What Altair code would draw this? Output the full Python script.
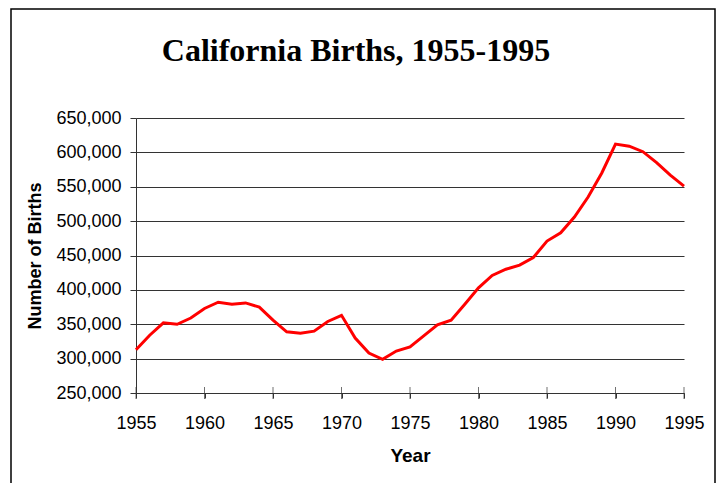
import altair as alt
import pandas as pd

years = list(range(1955, 1996))
births = [
    313000, 334000, 352000, 350000, 359000, 373000, 382000, 379000, 381000, 375000,
    356000, 339000, 337000, 340000, 354000, 363000, 330000, 308000, 299000, 311000,
    317000, 333000, 349000, 356000, 379000, 403000, 421000, 430000, 436000, 447000,
    471000, 483000, 506000, 535000, 570000, 612000, 609000, 601000, 585000, 567000,
    551000,
]
y_ticks = [250000, 300000, 350000, 400000, 450000, 500000, 550000, 600000, 650000]
x_ticks = [1955, 1960, 1965, 1970, 1975, 1980, 1985, 1990, 1995]

df = pd.DataFrame({"Year": years, "Births": births})
tick_df = pd.DataFrame({"Year": x_ticks, "Births": [250000] * len(x_ticks)})

x_scale = alt.Scale(domain=[1955, 1995], nice=False, zero=False)
y_scale = alt.Scale(domain=[250000, 650000], nice=False, zero=False)

x_axis = alt.Axis(
    values=x_ticks, format="d", title="Year", grid=False,
    labelFont="Liberation Sans", labelFontSize=18, labelColor="black",
    titleFont="Liberation Sans", titleFontSize=19, titleFontWeight="bold",
    titleColor="black", domainColor="#333", tickColor="#333",
    tickSize=5, labelPadding=16, titlePadding=14, labelFlush=False,
    labelOverlap=False,
)
y_axis = alt.Axis(
    values=y_ticks, format=",d", title="Number of Births",
    grid=True, gridColor="#333", gridOpacity=1, gridWidth=1,
    labelFont="Liberation Sans", labelFontSize=18, labelColor="black",
    titleFont="Liberation Sans", titleFontSize=18, titleFontWeight="bold",
    titleColor="black", domainColor="#333", tickColor="#333",
    tickSize=6, labelPadding=9, titlePadding=11, labelFlush=False,
    labelOverlap=False,
)

frame = alt.Chart(pd.DataFrame({"a": [0]})).mark_rect(
    fill=None, stroke="black", strokeWidth=1.5
).encode(
    x=alt.value(-125), x2=alt.value(579), y=alt.value(-109), y2=alt.value(400)
)

line = alt.Chart(df).mark_line(color="#FF0000", strokeWidth=3).encode(
    x=alt.X("Year:Q", scale=x_scale, axis=x_axis),
    y=alt.Y("Births:Q", scale=y_scale, axis=y_axis),
)

xticks_up = alt.Chart(tick_df).mark_tick(
    orient="vertical", size=12, thickness=1, color="#333"
).encode(
    x=alt.X("Year:Q", scale=x_scale, axis=x_axis),
    y=alt.Y("Births:Q", scale=y_scale, axis=y_axis),
)

chart = alt.layer(frame, line, xticks_up).properties(
    width=548,
    height=275,
    title=alt.TitleParams(
        "California Births, 1955-1995",
        font="Liberation Serif", fontSize=32, fontWeight="bold", color="black",
        anchor="middle", dx=-54, offset=-85, baseline="alphabetic", frame="group",
    ),
    autosize=alt.AutoSizeParams(type="none"),
    padding={"left": 128, "top": 110, "right": 32, "bottom": 90},
).configure_view(stroke=None)

chart.save("out.html", embed_options={"renderer": "svg", "actions": False})
